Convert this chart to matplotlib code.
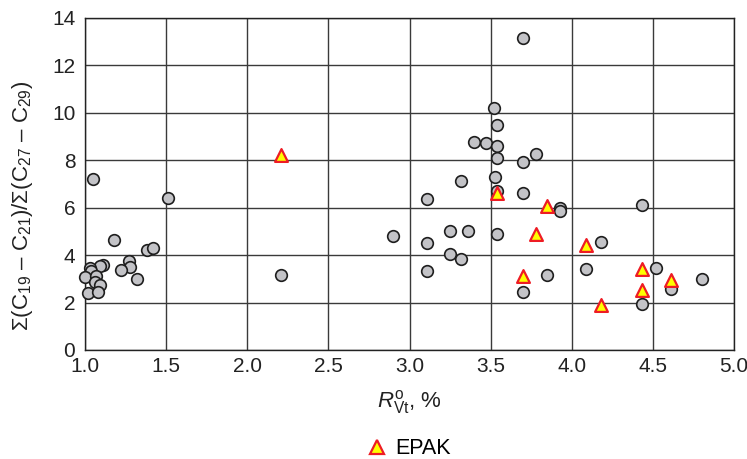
import matplotlib
matplotlib.use("Agg")
import matplotlib.pyplot as plt
from matplotlib.lines import Line2D

plt.rcParams['font.family'] = ['Liberation Sans', 'DejaVu Sans']
plt.rcParams['mathtext.fontset'] = 'custom'
plt.rcParams['mathtext.rm'] = 'Liberation Sans'
plt.rcParams['mathtext.it'] = 'Liberation Sans:italic'
plt.rcParams['mathtext.bf'] = 'Liberation Sans:bold'

# Grey circles (other samples)
circle_x = [1.05, 1.51, 1.18, 1.38, 1.42, 1.27, 1.28, 1.22, 1.32, 1.11, 1.09, 1.03,
            1.04, 1.00, 1.07, 1.06, 1.09, 1.02, 1.08, 2.21, 2.90, 3.11, 3.11, 3.11,
            3.25, 3.25, 3.32, 3.32, 3.36, 3.40, 3.47, 3.52, 3.54, 3.54, 3.54, 3.53,
            3.54, 3.54, 3.70, 3.70, 3.70, 3.70, 3.78, 3.85, 3.93, 3.93, 4.09, 4.18,
            4.43, 4.43, 4.52, 4.61, 4.80]
circle_y = [7.20, 6.42, 4.65, 4.20, 4.30, 3.75, 3.50, 3.38, 2.98, 3.60, 3.56, 3.45,
            3.35, 3.06, 3.10, 2.85, 2.73, 2.40, 2.45, 3.18, 4.79, 6.36, 4.52, 3.35,
            5.00, 4.04, 7.11, 3.82, 5.03, 8.78, 8.74, 10.20, 9.47, 8.60, 8.08, 7.30,
            6.72, 4.90, 13.14, 7.92, 6.63, 2.44, 8.25, 3.17, 5.97, 5.87, 3.41, 4.54,
            6.10, 1.93, 3.45, 2.56, 3.00]

# EPAK samples (triangles)
epak_x = [2.21, 3.54, 3.85, 3.78, 4.09, 3.70, 4.43, 4.61, 4.43, 4.18]
epak_y = [8.22, 6.60, 6.07, 4.87, 4.41, 3.14, 3.40, 2.97, 2.55, 1.90]

x_ticks = [1.0, 1.5, 2.0, 2.5, 3.0, 3.5, 4.0, 4.5, 5.0]
y_ticks = [0, 2, 4, 6, 8, 10, 12, 14]

fig = plt.figure(figsize=(7.47, 4.59), dpi=100)
ax = fig.add_axes([0.1138, 0.2375, 0.8688, 0.7235])

ax.set_xlim(1.0, 5.0)
ax.set_ylim(0, 14)
ax.set_xticks(x_ticks)
ax.set_xticklabels([f"{t:.1f}" for t in x_ticks])
ax.set_yticks(y_ticks)
ax.grid(True, color='#3a3a3a', linewidth=1.0)
ax.set_axisbelow(True)
ax.tick_params(length=0, labelsize=15, colors='#222222')
ax.tick_params(axis='x', pad=5)
ax.tick_params(axis='y', pad=7)
for s in ax.spines.values():
    s.set_color('#222222')
    s.set_linewidth(1.0)

ax.scatter(circle_x, circle_y, s=70, facecolor='#c3c3c7', edgecolor='#1e1e1e',
           linewidths=1.2, zorder=3, clip_on=False)
ax.scatter(epak_x, epak_y, marker='^', s=85, facecolor='#ffff00', edgecolor='#ee1c24',
           linewidths=1.6, zorder=4, clip_on=False)

ax.set_xlabel(r'$R^{\mathrm{o}}_{\mathrm{Vt}}$, %', fontsize=16, labelpad=9, color='#222222')
ax.set_ylabel(r'$\Sigma$(C$_{19}$ – C$_{21}$)/$\Sigma$(C$_{27}$ – C$_{29}$)',
              fontsize=16, color='#222222')
ax.yaxis.set_label_coords(-0.077, 0.434)

handle = Line2D([], [], linestyle='none', marker='^', markersize=10,
                markerfacecolor='#ffff00', markeredgecolor='#ee1c24', markeredgewidth=1.6)
fig.legend([handle], ['EPAK'], loc='center', bbox_to_anchor=(0.546, 0.022),
           frameon=False, fontsize=15.5, handletextpad=0.25, handlelength=1.2)

fig.savefig('out.png', dpi=100)
